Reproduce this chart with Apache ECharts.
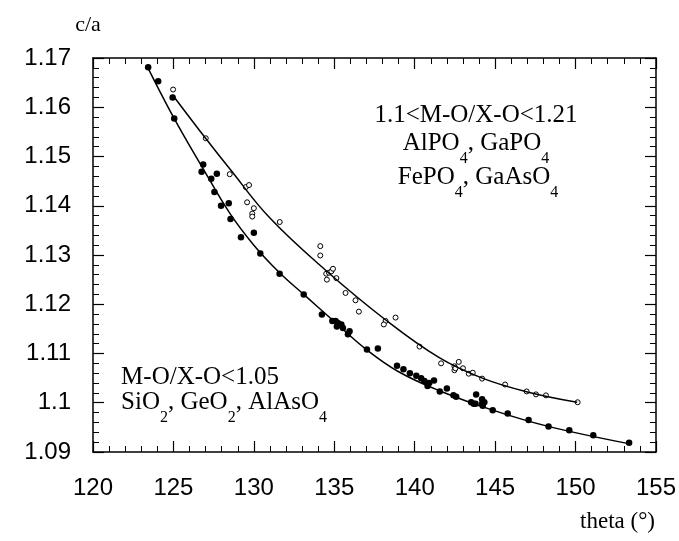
<!DOCTYPE html>
<html>
<head>
<meta charset="utf-8">
<script src="https://cdn.jsdelivr.net/npm/echarts@6/dist/echarts.min.js"></script>
<style>
  html, body { margin: 0; padding: 0; background: #fff; }
  #chart { width: 679px; height: 541px; }
</style>
</head>
<body>
<div id="chart"></div>
<script>
// axis ranges / ticks
const xTicks = [120, 125, 130, 135, 140, 145, 150, 155]
const yTicks = [1.09, 1.10, 1.11, 1.12, 1.13, 1.14, 1.15, 1.16, 1.17]

// filled circles: M-O/X-O < 1.05 (SiO2, GeO2, AlAsO4)
const filledPts = [
  [123.43, 1.1681], [124.05, 1.1653], [124.95, 1.1620], [125.05, 1.1577],
  [126.85, 1.1484], [126.75, 1.1469], [127.70, 1.1465], [127.35, 1.1455],
  [127.55, 1.1428], [128.44, 1.1405], [127.96, 1.1400], [128.55, 1.1373],
  [129.2, 1.1336], [130.0, 1.1345], [130.4, 1.1303], [131.6, 1.1262],
  [133.10, 1.1220], [134.23, 1.1179], [134.88, 1.1166], [135.08, 1.1166],
  [135.23, 1.1162], [135.44, 1.1159], [135.16, 1.1155], [135.54, 1.1152],
  [135.95, 1.1145], [135.85, 1.1139], [137.03, 1.1108], [137.71, 1.1110],
  [138.9, 1.1075], [139.3, 1.1068], [139.7, 1.1060], [140.1, 1.1055],
  [140.4, 1.1050], [140.6, 1.1044], [140.9, 1.1040], [141.2, 1.1045],
  [140.8, 1.1034], [141.56, 1.1023], [142.0, 1.1029], [142.41, 1.1015],
  [142.58, 1.1012], [143.51, 1.1001], [143.67, 1.0998], [143.78, 1.0998],
  [143.82, 1.1017], [144.19, 1.1007], [144.33, 1.1001], [144.23, 1.0994],
  [144.19, 1.0998], [144.85, 1.0985], [145.78, 1.0978], [147.08, 1.0965],
  [148.32, 1.0952], [149.61, 1.0944], [151.10, 1.0934], [153.33, 1.0919]
]

// open circles: 1.1 < M-O/X-O < 1.21 (AlPO4, GaPO4, FePO4, GaAsO4)
const openPts = [
  [124.98, 1.1636], [127.01, 1.1537], [128.5, 1.1464], [129.5, 1.1438],
  [129.7, 1.1442], [129.58, 1.1407], [130.0, 1.1395], [129.9, 1.1384],
  [129.9, 1.1378], [131.61, 1.1367], [134.13, 1.1318], [134.13, 1.1299],
  [134.50, 1.1262], [134.67, 1.1264], [134.82, 1.1267], [134.92, 1.1272],
  [134.54, 1.1250], [135.13, 1.1253], [135.70, 1.1223], [136.32, 1.1208],
  [136.53, 1.1185], [138.19, 1.1166], [138.08, 1.1159], [138.81, 1.1173],
  [140.30, 1.1114], [141.64, 1.1080], [142.47, 1.1074], [142.47, 1.1066],
  [142.53, 1.1070], [142.74, 1.1083], [143.0, 1.1070], [143.36, 1.1059],
  [143.61, 1.1061], [144.19, 1.1049], [145.62, 1.1037], [146.96, 1.1023],
  [147.54, 1.1017], [148.16, 1.1015], [150.13, 1.1001]
]

// fitted curves, points
const upperCurve = [
  [124.95, 1.1625], [127.0, 1.1537], [128.5, 1.1475], [131.0, 1.1375],
  [134.5, 1.1268], [138.2, 1.1168], [141.5, 1.1092], [144.2, 1.1050],
  [147.0, 1.1022], [150.1, 1.1001]
]
const lowerCurve = [
  [123.4, 1.1681], [125.0, 1.1580], [126.85, 1.1475], [128.5, 1.1385],
  [130.0, 1.1320], [131.6, 1.1264], [133.1, 1.1220], [135.0, 1.1165],
  [137.0, 1.1108], [139.0, 1.1063], [141.5, 1.1025], [144.85, 1.0985],
  [148.3, 1.0952], [153.3, 1.0917]
]

const serif = '"Liberation Serif", "Times New Roman", serif'
const sans = '"Liberation Sans", Arial, sans-serif'

const chart = echarts.init(document.getElementById('chart'))

const axisLine = { lineStyle: { color: '#000', width: 1.5 } }
const tick = { inside: true, length: 11, lineStyle: { color: '#000', width: 1.2 } }
const minor = { show: true, splitNumber: 5, length: 6, lineStyle: { color: '#000', width: 1 } }

const xBase = {
  type: 'value',
  min: xTicks[0],
  max: xTicks[xTicks.length - 1],
  interval: 5,
  axisLine: axisLine,
  axisTick: tick,
  minorTick: minor,
  splitLine: { show: false }
}
const yBase = {
  type: 'value',
  min: yTicks[0],
  max: yTicks[yTicks.length - 1],
  interval: 0.01,
  axisLine: axisLine,
  axisTick: tick,
  minorTick: minor,
  splitLine: { show: false }
}

const rich = {
  n: { fontFamily: serif, fontSize: 25, lineHeight: 28, fill: '#000', verticalAlign: 'top' },
  s: { fontFamily: serif, fontSize: 16, lineHeight: 16, padding: [20, 0, 0, 0], fill: '#000', verticalAlign: 'top' }
}

function label(text, x, y, align) {
  return {
    type: 'text',
    x: x,
    y: y,
    style: { text: text, rich: rich, align: align || 'center', verticalAlign: 'top' }
  }
}

const option = {
  animation: false,
  grid: { left: 93, right: 22, top: 58, bottom: 89 },
  xAxis: [
    Object.assign({}, xBase, {
      position: 'bottom',
      axisLabel: { color: '#000', fontSize: 24, fontFamily: sans, margin: 24 }
    }),
    Object.assign({}, xBase, { position: 'top', axisLabel: { show: false } })
  ],
  yAxis: [
    Object.assign({}, yBase, {
      position: 'left',
      axisLabel: {
        color: '#000', fontSize: 24, fontFamily: sans, margin: 22,
        formatter: v => String(+v.toFixed(2))
      }
    }),
    Object.assign({}, yBase, { position: 'right', axisLabel: { show: false } })
  ],
  graphic: [
    { type: 'text', x: 88, y: 25, style: { text: 'c/a', font: '22px ' + serif, fill: '#000', align: 'center', verticalAlign: 'middle' } },
    { type: 'text', x: 655, y: 522, style: { text: 'theta (°)', font: '23px ' + serif, fill: '#000', align: 'right', verticalAlign: 'middle' } },
    label('{n|1.1<M-O/X-O<1.21}', 476, 103),
    label('{n|AlPO}{s|4}{n|, GaPO}{s|4}', 476, 131),
    label('{n|FePO}{s|4}{n|, GaAsO}{s|4}', 478, 165),
    label('{n|M-O/X-O<1.05}', 200, 365),
    label('{n|SiO}{s|2}{n|, GeO}{s|2}{n|, AlAsO}{s|4}', 224, 390)
  ],
  series: [
    {
      type: 'line', data: upperCurve, smooth: 0.4, showSymbol: false,
      lineStyle: { color: '#000', width: 1.5 }
    },
    {
      type: 'line', data: lowerCurve, smooth: 0.4, showSymbol: false,
      lineStyle: { color: '#000', width: 1.5 }
    },
    {
      type: 'scatter', data: openPts, symbolSize: 5,
      itemStyle: { color: '#fff', borderColor: '#000', borderWidth: 1, opacity: 1 }
    },
    {
      type: 'scatter', data: filledPts, symbolSize: 6.5,
      itemStyle: { color: '#000', opacity: 1 }
    }
  ]
}

chart.setOption(option)
</script>
</body>
</html>
